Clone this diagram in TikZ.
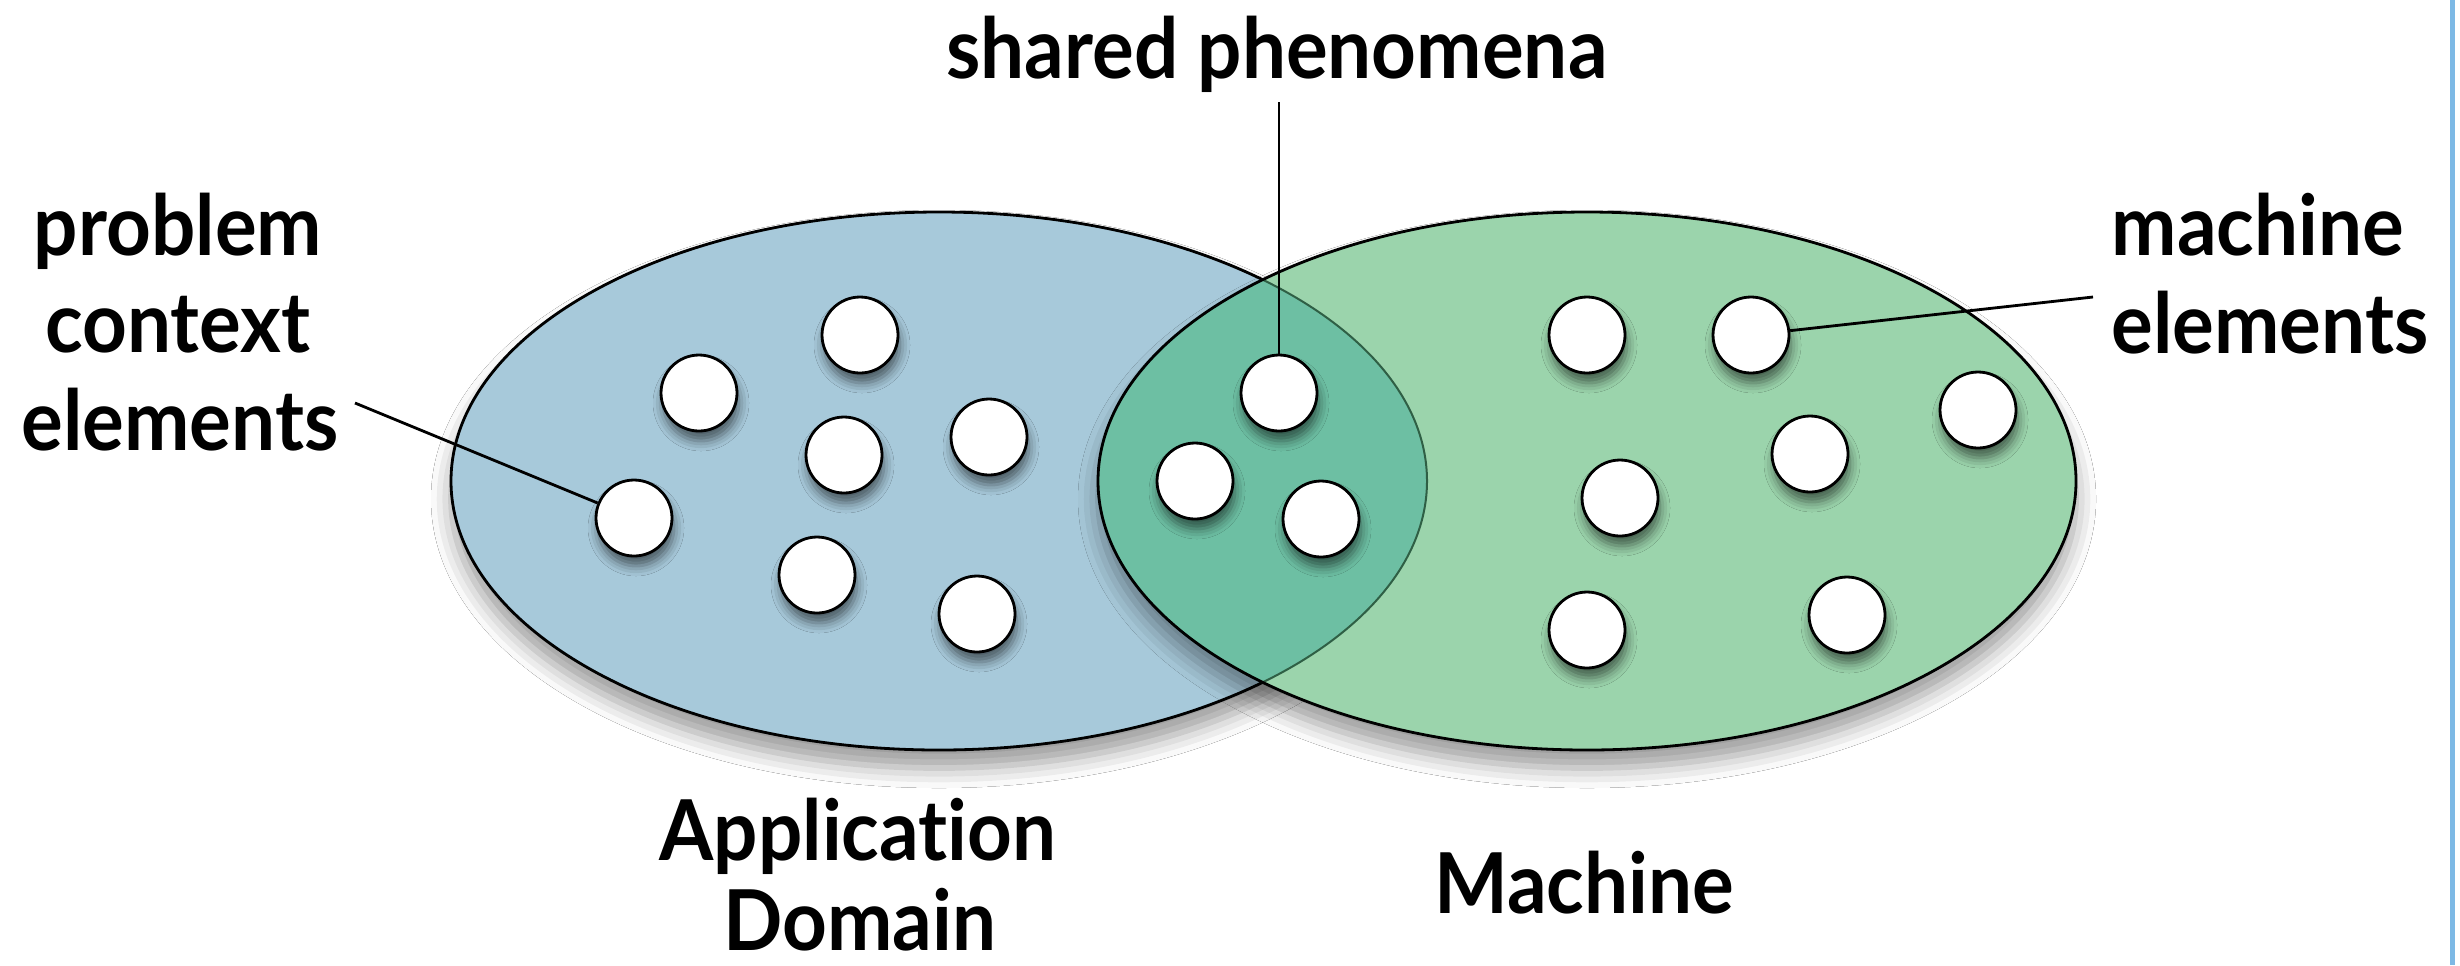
\documentclass[tikz,border=0pt]{standalone}
\usepackage{fontspec}
\setmainfont{Lato}[FakeStretch=0.93, Ligatures={NoCommon}]
\usetikzlibrary{shadows.blur}
\definecolor{bluefill}{HTML}{A7C9DA}
\definecolor{greenfill}{HTML}{9BD4AC}
\definecolor{overlapfill}{HTML}{6DBFA3}
\definecolor{innerarc}{HTML}{2F5F45}
\definecolor{framefill}{HTML}{7DB9E5}
\begin{document}
\begin{tikzpicture}[x=0.5pt,y=-0.5pt,
  lbl/.style={font=\fontsize{42}{48}\selectfont\bfseries, inner sep=0pt, anchor=base},
  dot/.style={circle, draw=black, line width=1.4pt, fill=white, minimum size=38pt, inner sep=0pt,
    blur shadow={shadow xshift=1pt, shadow yshift=-5pt, shadow blur radius=5pt, shadow opacity=55}},
  conn/.style={line width=1.4pt},
  bigshadow/.style={blur shadow={shadow xshift=0pt, shadow yshift=-9pt, shadow blur radius=10pt, shadow opacity=40}},
  rim/.style={line width=1.4pt, draw=black}]
\useasboundingbox (0,0) rectangle (2460,965);
\fill[white] (0,0) rectangle (2460,965);
% right frame edge
\draw[framefill, line width=2.5pt] (2452,0) -- (2452,965);
% application domain ellipse
\fill[bluefill, bigshadow] (939,481) ellipse [x radius=244pt, y radius=134.5pt];
\draw[rim] (939,481) ellipse [x radius=244pt, y radius=134.5pt];
% machine ellipse
\fill[greenfill, bigshadow] (1587,481) ellipse [x radius=244.5pt, y radius=134.5pt];
\begin{scope}
  \clip (939,481) ellipse [x radius=244pt, y radius=134.5pt];
  \fill[overlapfill] (1587,481) ellipse [x radius=244.5pt, y radius=134.5pt];
\end{scope}
\begin{scope}
  \clip (1587,481) ellipse [x radius=244.5pt, y radius=134.5pt];
  \draw[innerarc, line width=1pt] (939,481) ellipse [x radius=244pt, y radius=134.5pt];
\end{scope}
\draw[rim] (1587,481) ellipse [x radius=244.5pt, y radius=134.5pt];
% problem context elements
\node[dot] (b1) at (860,335) {};
\node[dot] (b2) at (699,393) {};
\node[dot] (b3) at (844,455) {};
\node[dot] (b4) at (989,437) {};
\node[dot] (b5) at (634,518) {};
\node[dot] (b6) at (817,575) {};
\node[dot] (b7) at (977,614) {};
% shared phenomena
\node[dot] (s1) at (1279,393) {};
\node[dot] (s2) at (1195,481) {};
\node[dot] (s3) at (1321,519) {};
% machine elements
\node[dot] (g1) at (1587,335) {};
\node[dot] (g2) at (1751,335) {};
\node[dot] (g3) at (1978,410) {};
\node[dot] (g4) at (1810,454) {};
\node[dot] (g5) at (1620,498) {};
\node[dot] (g6) at (1587,630) {};
\node[dot] (g7) at (1847,615) {};
% labels
\node[lbl] (pc1) at (178,255) {problem};
\node[lbl] (pc2) at (178,352) {context};
\node[lbl] (pc3) at (180,450) {elements};
\node[lbl] (sp) at (1277,78) {shared phenomena};
\node[lbl] (me1) at (2258,255) {machine};
\node[lbl] (me2) at (2270,353) {elements};
\node[lbl] (ad1) at (858,860) {Application};
\node[lbl] (ad2) at (860,950) {Domain};
\node[lbl] (mc) at (1584,913) {Machine};
% connectors
\coordinate (pcEnd) at (355,403);
\coordinate (spEnd) at (1279,102);
\coordinate (meEnd) at (2093,297);
\draw[conn] (pcEnd) -- (b5);
\draw[conn] (spEnd) -- (s1);
\draw[conn] (meEnd) -- (g2);
\end{tikzpicture}
\end{document}
